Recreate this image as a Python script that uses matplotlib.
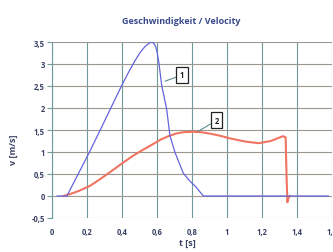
import matplotlib
matplotlib.use("Agg")
import matplotlib.pyplot as plt

plt.rcParams['font.family'] = ['Open Sans', 'DejaVu Sans']

# Series 1 (blue)
t1 = [0.03, 0.085, 0.213, 0.30, 0.398, 0.44, 0.475, 0.505, 0.53, 0.55, 0.563, 0.572,
      0.582, 0.592, 0.600, 0.610, 0.627, 0.655, 0.674, 0.703, 0.75, 0.79, 0.817,
      0.865, 1.0, 1.2, 1.4, 1.58]
v1 = [0.0, 0.0, 0.99, 1.70, 2.51, 2.83, 3.08, 3.27, 3.39, 3.46, 3.49, 3.49,
      3.47, 3.40, 3.28, 3.05, 2.51, 1.98, 1.37, 0.99, 0.52, 0.33, 0.23,
      0.0, 0.0, 0.0, 0.0, 0.0]

# Series 2 (red)
t2 = [0.065, 0.10, 0.15, 0.217, 0.27, 0.331, 0.40, 0.465, 0.52, 0.56, 0.62, 0.665,
      0.71, 0.75, 0.80, 0.85, 0.90, 0.96, 1.017, 1.10, 1.18, 1.25, 1.32, 1.335,
      1.34, 1.345, 1.35, 1.36]
v2 = [0.0, 0.04, 0.11, 0.23, 0.37, 0.54, 0.74, 0.92, 1.05, 1.14, 1.28, 1.36,
      1.42, 1.45, 1.46, 1.45, 1.42, 1.37, 1.31, 1.24, 1.20, 1.25, 1.36, 1.33,
      0.5, -0.14, -0.05, 0.0]

xticks = [0, 0.2, 0.4, 0.6, 0.8, 1.0, 1.2, 1.4, 1.6]
xticklabels = ["0", "0,2", "0,4", "0,6", "0,8", "1", "1,2", "1,4", "1,6"]
yticks = [-0.5, 0, 0.5, 1, 1.5, 2, 2.5, 3, 3.5]
yticklabels = ["-0,5", "0", "0,5", "1", "1,5", "2", "2,5", "3", "3,5"]

title = "Geschwindigkeit / Velocity"
xlabel = "t [s]"
ylabel = "v [m/s]"
labels = ["1", "2"]

fig = plt.figure(figsize=(3.33, 2.53), dpi=100)
ax = fig.add_axes([52/333, 34/253, 280/333, 176/253])

ax.set_xlim(0, 1.6)
ax.set_ylim(-0.5, 3.5)
ax.set_xticks(xticks)
ax.set_xticklabels(xticklabels)
ax.set_yticks(yticks)
ax.set_yticklabels(yticklabels)

gcol_v = '#6f9a9a'
gcol_h = '#9c9690'
for x in xticks:
    ax.axvline(x, color=gcol_v, lw=0.8, zorder=0)
for y in yticks:
    ax.axhline(y, color=gcol_h, lw=0.8, zorder=0)

for s in ['top', 'right', 'bottom']:
    ax.spines[s].set_visible(False)
ax.spines['left'].set_color(gcol_v)
ax.spines['left'].set_linewidth(0.8)

tcol = '#3c4466'
ax.tick_params(axis='x', length=0, pad=6.5, labelsize=5.5, labelcolor=tcol)
ax.tick_params(axis='y', length=3.5, width=0.8, color=gcol_v, pad=1.5,
               labelsize=5.5, labelcolor=tcol)
for lab in ax.get_xticklabels() + ax.get_yticklabels():
    lab.set_fontweight('bold')

ax.plot(t2, v2, color='#f07462', lw=1.5, zorder=2)
ax.plot(t1, v1, color='#6464dc', lw=0.9, zorder=3)

bbox = dict(boxstyle='square,pad=0.45', fc='white', ec='#222222', lw=0.9)
ax.annotate(labels[0], xy=(0.646, 2.61), xytext=(0.743, 2.75),
            fontsize=5.5, fontweight='bold', color='#222222',
            ha='center', va='center', bbox=bbox,
            arrowprops=dict(arrowstyle='-', color='#5d8e8e', lw=0.8,
                            shrinkA=0, shrinkB=0), zorder=5)
ax.annotate(labels[1], xy=(0.836, 1.47), xytext=(0.94, 1.72),
            fontsize=5.5, fontweight='bold', color='#222222',
            ha='center', va='center', bbox=bbox,
            arrowprops=dict(arrowstyle='-', color='#5d8e8e', lw=0.8,
                            shrinkA=0, shrinkB=0), zorder=5)

fig.text(181/333, 1 - 21/253, title, ha='center', va='center',
         fontsize=6.5, fontweight='bold', color='#3a4a8c')
fig.text(187/333, 1 - 244/253, xlabel, ha='center', va='center',
         fontsize=6.5, fontweight='bold', color=tcol)
fig.text(13/333, 1 - 150/253, ylabel, ha='center', va='center', rotation=90,
         fontsize=6.5, fontweight='bold', color=tcol)

fig.savefig('out.png', dpi=100)
